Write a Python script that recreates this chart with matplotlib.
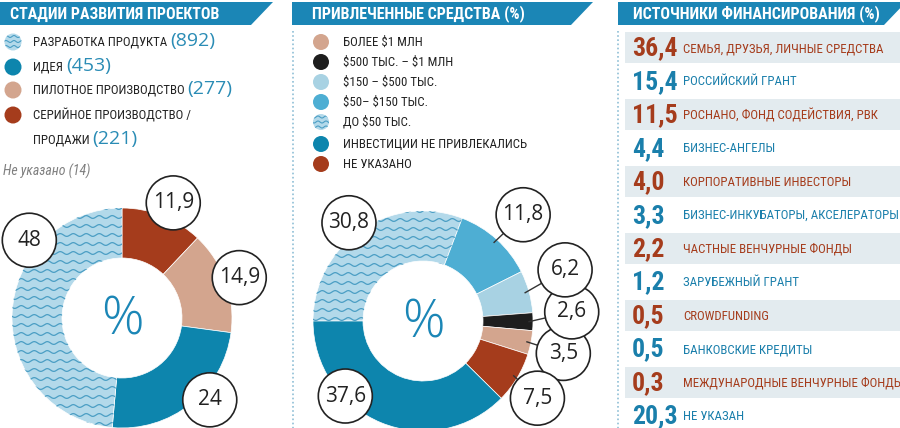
"""
Infographic: project stages, raised funds, funding sources (three panels).
"""
import numpy as np
import matplotlib
matplotlib.use('Agg')
import matplotlib.pyplot as plt
from matplotlib import font_manager as fm
from matplotlib.patches import Polygon, Circle, Rectangle

plt.rcParams['text.parse_math'] = False


def pick(cands, default='DejaVu Sans'):
    names = {f.name for f in fm.fontManager.ttflist}
    for c in cands:
        if c in names:
            return c
    return default


COND = pick(['Liberation Sans Narrow', 'Roboto Condensed', 'Open Sans Condensed'])
SANS = pick(['Open Sans', 'Noto Sans', 'DejaVu Sans'])

# ---- data ----
stage_labels = ['РАЗРАБОТКА ПРОДУКТА', 'ИДЕЯ', 'ПИЛОТНОЕ ПРОИЗВОДСТВО',
                'СЕРИЙНОЕ ПРОИЗВОДСТВО /\nПРОДАЖИ']
stage_counts = [892, 453, 277, 221]
stage_pct = [48, 24, 14.9, 11.9]
stage_missing = 14

funds_labels = ['БОЛЕЕ $1 МЛН', '$500 ТЫС. – $1 МЛН', '$150 – $500 ТЫС.',
                '$50– $150 ТЫС.', 'ДО $50 ТЫС.', 'ИНВЕСТИЦИИ НЕ ПРИВЛЕКАЛИСЬ',
                'НЕ УКАЗАНО']
funds_pct = [3.5, 2.6, 6.2, 11.8, 30.8, 37.6, 7.5]

source_labels = ['СЕМЬЯ, ДРУЗЬЯ, ЛИЧНЫЕ СРЕДСТВА', 'РОССИЙСКИЙ ГРАНТ',
                 'РОСНАНО, ФОНД СОДЕЙСТВИЯ, РВК', 'БИЗНЕС-АНГЕЛЫ',
                 'КОРПОРАТИВНЫЕ ИНВЕСТОРЫ', 'БИЗНЕС-ИНКУБАТОРЫ, АКСЕЛЕРАТОРЫ',
                 'ЧАСТНЫЕ ВЕНЧУРНЫЕ ФОНДЫ', 'ЗАРУБЕЖНЫЙ ГРАНТ', 'CROWDFUNDING',
                 'БАНКОВСКИЕ КРЕДИТЫ', 'МЕЖДУНАРОДНЫЕ ВЕНЧУРНЫЕ ФОНДЫ', 'НЕ УКАЗАН']
source_pct = [36.4, 15.4, 11.5, 4.4, 4.0, 3.3, 2.2, 1.2, 0.5, 0.5, 0.3, 20.3]

# ---- palette ----
HEAD = '#1b86b6'
WAVY_BG = '#b3d9ea'
WAVY_LN = '#4b9ec4'
BLUE = '#0d85ad'
TAN = '#d3a58e'
RED = '#a53c1c'
BLACK = '#1e1e1e'
LBLUE = '#a8d2e3'
MBLUE = '#4eaed3'
ROW_BG = '#e3ebef'
TXT = '#222222'
NUMBLUE = '#2a8cb5'
TXT_BLUE = '#1a7fab'
DOTS = '#8fbfd6'
WAVY = 'wavy'

stage_colors = [WAVY, BLUE, TAN, RED]
funds_colors = [TAN, BLACK, LBLUE, MBLUE, WAVY, BLUE, RED]

stage_order = [3, 2, 1, 0]            # clockwise from 12 o'clock
funds_order = [4, 3, 2, 1, 0, 6, 5]   # clockwise from 9 o'clock

# label bubbles: (angle deg, distance px) around each donut
stage_bubbles = [(140, 121), (-43, 120), (19, 124), (66, 126)]
funds_bubbles = [(-13, 144), (3.5, 149), (19.8, 151), (46.7, 146),
                 (127, 123), (-136, 108), (-34, 138)]

W, H = 900, 428
fig = plt.figure(figsize=(W / 100, H / 100), dpi=100)
fig.patch.set_facecolor('white')
ax = fig.add_axes([0, 0, 1, 1])
ax.set_xlim(0, W); ax.set_ylim(H, 0); ax.axis('off')


def waves(a, clip, x0, x1, y0, y1, step=9, lam=13, amp=1.4, lw=0.9):
    xs = np.linspace(x0, x1, 400)
    for y in np.arange(y0, y1, step):
        ln, = a.plot(xs, y + amp * np.sin(2 * np.pi * xs / lam),
                     color=WAVY_LN, lw=lw, zorder=3)
        ln.set_clip_path(clip)


# ---- headers ----
headers = [('СТАДИИ РАЗВИТИЯ ПРОЕКТОВ', [(0, 2), (273, 2), (251, 25), (0, 25)], 10),
           ('ПРИВЛЕЧЕННЫЕ СРЕДСТВА (%)', [(292, 2), (593, 2), (571, 25), (292, 25)], 312),
           ('ИСТОЧНИКИ ФИНАНСИРОВАНИЯ (%)', [(618, 2), (906, 2), (884, 25), (618, 25)], 633)]
for t, pts, tx in headers:
    ax.add_patch(Polygon(pts, closed=True, facecolor=HEAD, edgecolor='none'))
    ax.text(tx, 14, t, color='white', fontsize=11.5, fontweight='bold',
            family=COND, va='center', ha='left')

# dotted separators
for x in (293, 618):
    ax.plot([x, x], [31, H], color=DOTS, lw=1.2, ls=(0, (1, 1.5)))


def legend_dot(x, y, c, r=8.5):
    if c == WAVY:
        circ = Circle((x, y), r, facecolor=WAVY_BG, edgecolor='none', zorder=2)
        ax.add_patch(circ)
        waves(ax, circ, x - r, x + r, y - r + 3, y + r, step=5, lam=8, amp=1.0, lw=0.8)
    else:
        ax.add_patch(Circle((x, y), r, facecolor=c, edgecolor='none', zorder=2))


# ---- legend 1 ----
ly = [42, 67, 90, 115]
fig.canvas.draw()
for i, (lab, cnt, c) in enumerate(zip(stage_labels, stage_counts, stage_colors)):
    legend_dot(13, ly[i], c)
    lines = lab.split('\n')
    for k, ln in enumerate(lines):
        yy = ly[i] + 25 * k
        t = ax.text(33, yy, ln, fontsize=9.3, family=COND, color=TXT, va='center')
        if k == len(lines) - 1:
            bb = t.get_window_extent(renderer=fig.canvas.get_renderer())
            ax.text(bb.x1 + 3, yy - 1, f'({cnt})', fontsize=14, family=SANS,
                    color=NUMBLUE, va='center', ha='left')
ax.text(3, 171, f'Не указано ({stage_missing})', fontsize=10, family=COND,
        style='italic', color='#808080', va='center')

# ---- legend 2 ----
ly2 = [42, 62, 82, 102, 122, 144, 164]
for i, (lab, c) in enumerate(zip(funds_labels, funds_colors)):
    legend_dot(321, ly2[i], c, r=8)
    ax.text(343, ly2[i], lab, fontsize=9.3, family=COND, color=TXT, va='center')


# ---- donuts ----
def donut(cx, cy, vals, cols, order, start, bubbles, leaders):
    half = 175
    dax = fig.add_axes([(cx - half) / W, 1 - (cy + half) / H, 2 * half / W, 2 * half / H])
    dax.set_facecolor('none')
    v = [vals[i] for i in order]
    cc = [WAVY_BG if cols[i] == WAVY else cols[i] for i in order]
    wedges, _ = dax.pie(v, colors=cc, radius=110, startangle=start, counterclock=False,
                        wedgeprops=dict(width=50, edgecolor='white', linewidth=0.5))
    dax.set_xlim(-half, half); dax.set_ylim(-half, half); dax.set_aspect('equal')
    dax.axis('off')
    for w, i in zip(wedges, order):
        if cols[i] == WAVY:
            waves(dax, w, -115, 115, -115, 115)
    for i in range(len(vals)):
        ang, dist = bubbles[i]
        a = np.deg2rad(ang)
        bx, by = dist * np.cos(a), dist * np.sin(a)
        if leaders[i]:
            w = wedges[order.index(i)]
            m = np.deg2rad((w.theta1 + w.theta2) / 2)
            dax.plot([106 * np.cos(m), bx], [106 * np.sin(m), by], color='#333333',
                     lw=1.0, zorder=4, clip_on=False)
        dax.add_patch(Circle((bx, by), 27, facecolor='white', edgecolor='#222222',
                             lw=1.2, zorder=5, clip_on=False))
        dax.text(bx, by, f'{vals[i]:g}'.replace('.', ','), fontsize=15, family=SANS,
                 color=TXT, ha='center', va='center', zorder=6, clip_on=False)
    dax.text(0, -3, '%', fontsize=38, color=HEAD, ha='center', va='center',
             family=[SANS, 'DejaVu Sans'], fontweight='light')


donut(122, 318, stage_pct, stage_colors, stage_order, 90, stage_bubbles,
      [False] * 4)
donut(423, 321, funds_pct, funds_colors, funds_order, 180, funds_bubbles,
      [True, True, True, True, False, False, True])

# ---- right panel: funding sources ----
for i, (lab, v) in enumerate(zip(source_labels, source_pct)):
    yc = 47.5 + 33.45 * i
    c = RED if i % 2 == 0 else TXT_BLUE
    if i % 2 == 0:
        ax.add_patch(Rectangle((625, yc - 15.5), 280, 31, facecolor=ROW_BG,
                               edgecolor='none'))
    ax.text(632, yc + 1, f'{v:.1f}'.replace('.', ','), fontsize=18.5, fontweight='bold',
            family=COND, color=c, va='center', ha='left')
    ax.text(683, yc + 1, lab, fontsize=9.3, family=COND, color=c, va='center', ha='left')

fig.savefig('out.png', dpi=100, facecolor='white')
